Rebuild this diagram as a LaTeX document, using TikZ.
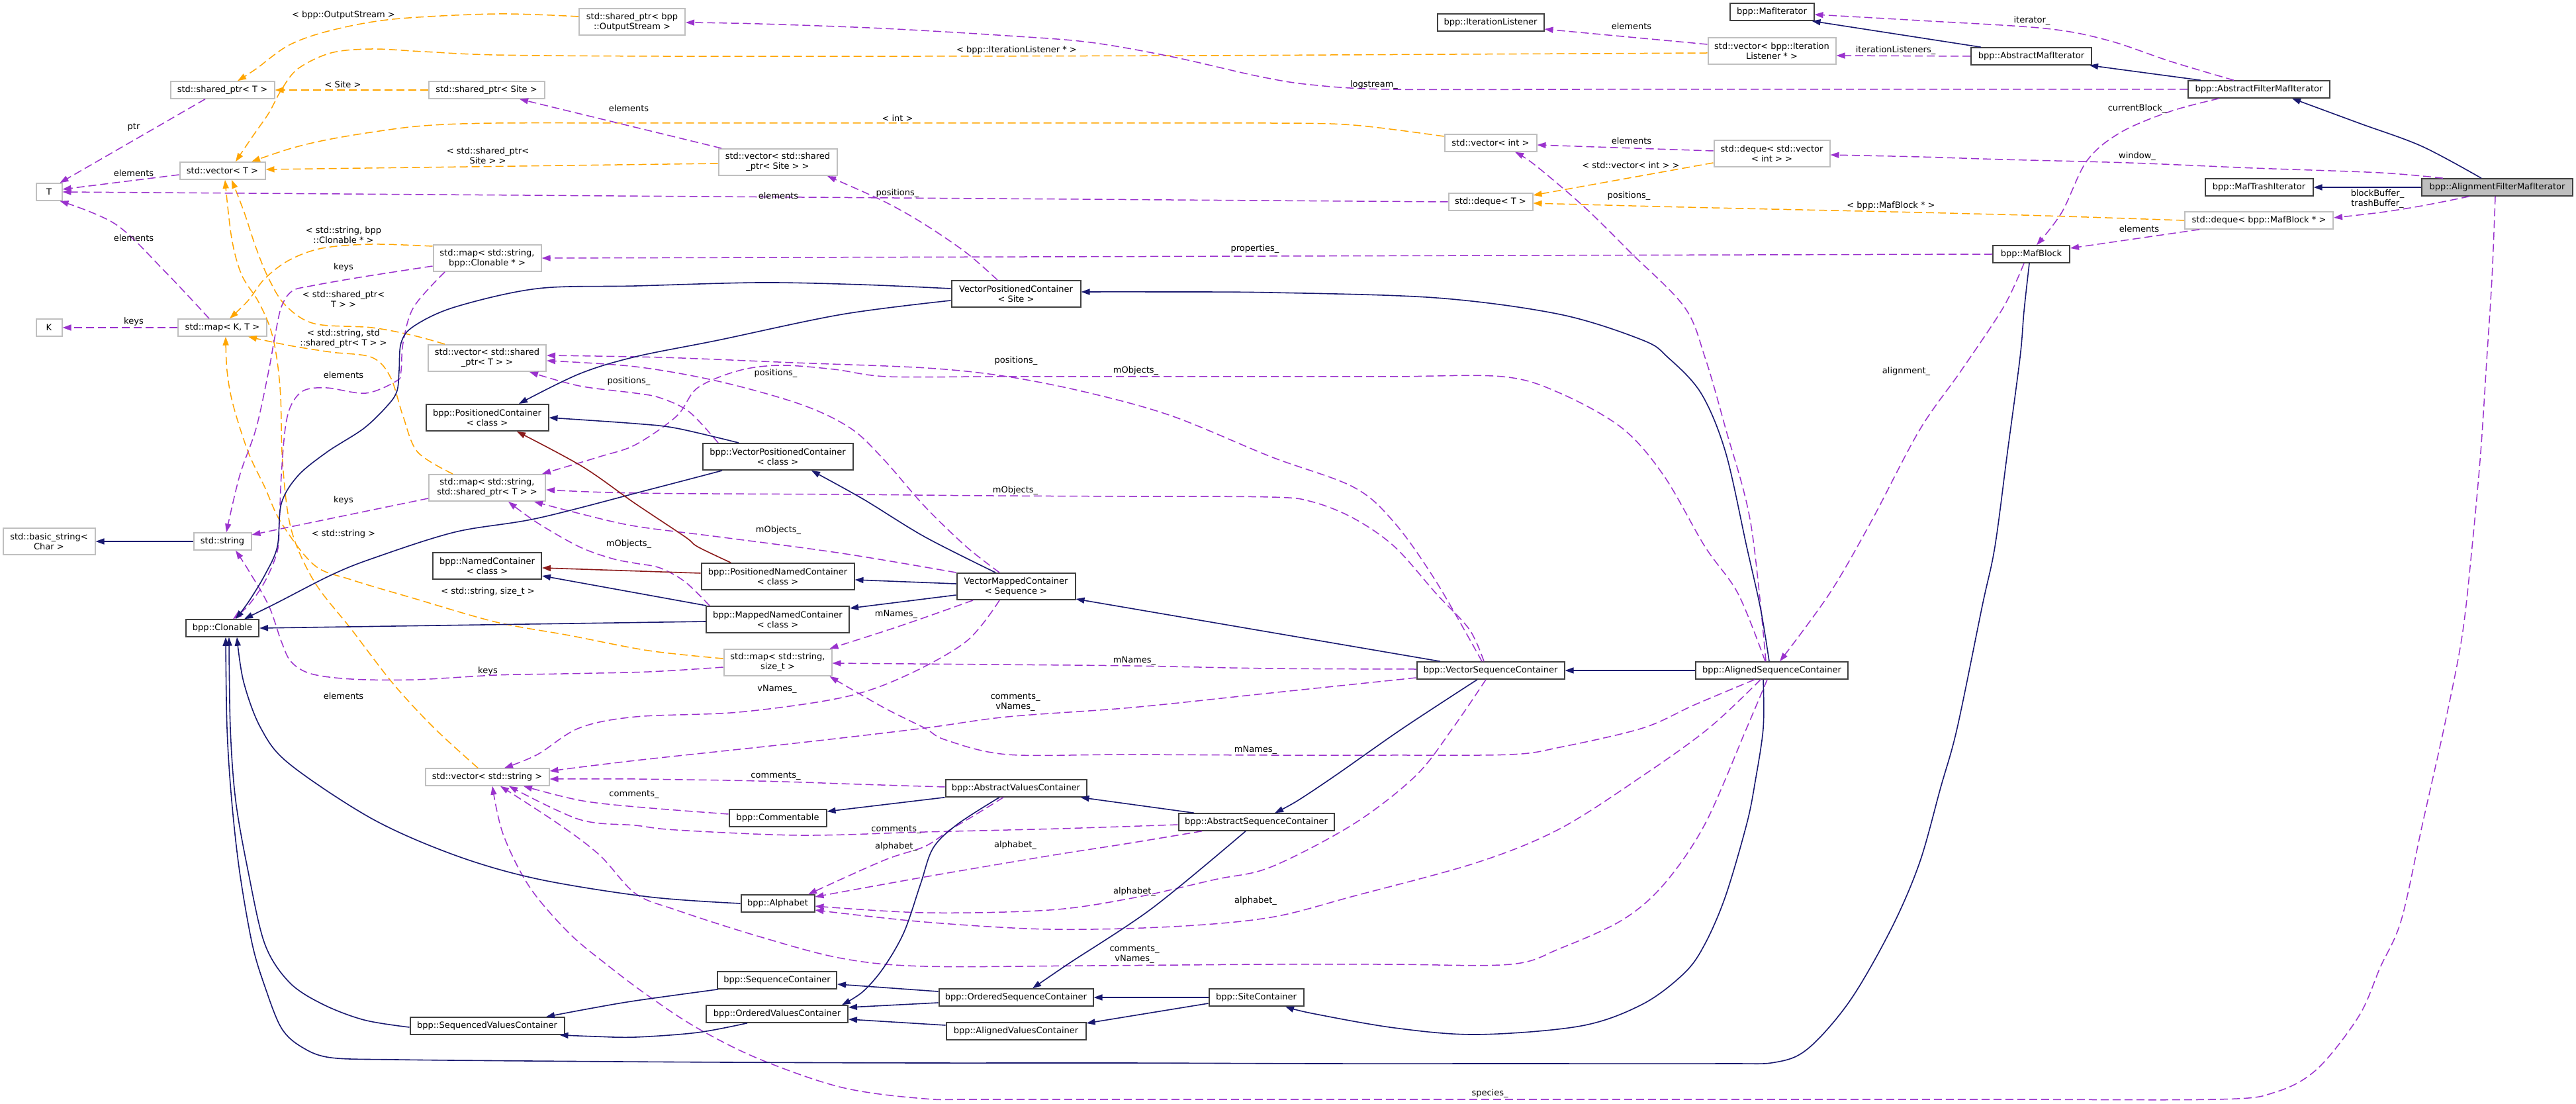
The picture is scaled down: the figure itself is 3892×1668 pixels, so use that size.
\documentclass[tikz,border=0pt]{standalone}
\usepackage{fontspec}
\setmainfont{DejaVu Sans}
\usetikzlibrary{arrows.meta}
\definecolor{inhc}{HTML}{191970}
\definecolor{privc}{HTML}{8B1A1A}
\definecolor{usec}{HTML}{9A32CD}
\definecolor{tmplc}{HTML}{FFA500}
\definecolor{docb}{HTML}{404040}
\definecolor{extb}{HTML}{BFBFBF}
\definecolor{focf}{HTML}{BFBFBF}
\tikzset{
  nbox/.style={draw, line width=1pt, fill=white, inner sep=0pt, align=center,
    font=\fontsize{6.5}{7.5}\selectfont, minimum height=12.75pt},
  cdoc/.style={nbox, draw=docb},
  cext/.style={nbox, draw=extb},
  cfoc/.style={nbox, draw=docb, fill=focf},
  two/.style={minimum height=20pt},
  wd/.style={minimum width=#1*0.5pt},
  tip/.style={-{Triangle[length=6.5pt,width=4.5pt]}},
  einh/.style={draw=inhc, line width=0.8pt, tip},
  epriv/.style={draw=privc, line width=0.8pt, tip},
  euse/.style={draw=usec, line width=0.75pt, dash pattern=on 6pt off 3pt, tip},
  etmpl/.style={draw=tmplc, line width=0.75pt, dash pattern=on 6pt off 3pt, tip},
  lbl/.style={inner sep=0pt, align=center, font=\fontsize{6.5}{7.5}\selectfont},
  sm/.style={smooth, tension=0.55}
}
\begin{document}
\begin{tikzpicture}[x=0.5pt,y=-0.5pt]
\useasboundingbox (0,0) rectangle (3892,1668);
% ---------------- nodes ----------------
\node[cext,two,wd=160] (oso) at (955,33) {std::shared\_ptr< bpp\\::OutputStream >};
\node[cdoc,wd=161] (il) at (2252,34) {bpp::IterationListener};
\node[cdoc,wd=127] (mi) at (2677,18) {bpp::MafIterator};
\node[cext,two,wd=193] (vil) at (2677,77) {std::vector< bpp::Iteration\\Listener * >};
\node[cdoc,wd=182] (ami) at (3069,85) {bpp::AbstractMafIterator};
\node[cdoc,wd=214] (afmi) at (3413,135) {bpp::AbstractFilterMafIterator};
\node[cext,wd=157] (spt) at (336,136) {std::shared\_ptr< T >};
\node[cext,wd=175] (sps) at (735,136) {std::shared\_ptr< Site >};
\node[cext,wd=129] (vT) at (336,258) {std::vector< T >};
\node[cext,two,wd=179] (vsps) at (1175,245) {std::vector< std::shared\\\_ptr< Site > >};
\node[cext,wd=139] (vint) at (2252,216) {std::vector< int >};
\node[cext,two,wd=175] (dvi) at (2677,232) {std::deque< std::vector\\< int > >};
\node[cext,wd=39] (T) at (74,290) {T};
\node[cext,wd=127] (dT) at (2252,305) {std::deque< T >};
\node[cdoc,wd=163] (mti) at (3413,283) {bpp::MafTrashIterator};
\node[cfoc,wd=228] (afi) at (3773,283) {bpp::AlignmentFilterMafIterator};
\node[cext,wd=224] (dmb) at (3413,333) {std::deque< bpp::MafBlock * >};
\node[cext,two,wd=163] (msc) at (736,390) {std::map< std::string,\\bpp::Clonable * >};
\node[cdoc,wd=116] (mb) at (3069,384) {bpp::MafBlock};
\node[cext,wd=39] (K) at (74,495) {K};
\node[cext,wd=134] (mKT) at (336,495) {std::map< K, T >};
\node[cdoc,two,wd=195] (vpcs) at (1535,444) {VectorPositionedContainer\\< Site >};
\node[cext,two,wd=178] (vspT) at (736,541) {std::vector< std::shared\\\_ptr< T > >};
\node[cdoc,two,wd=185] (pc) at (736,631) {bpp::PositionedContainer\\< class >};
\node[cdoc,two,wd=227] (vpc) at (1175,690) {bpp::VectorPositionedContainer\\< class >};
\node[cext,two,wd=176] (msp) at (736,737) {std::map< std::string,\\std::shared\_ptr< T > >};
\node[cext,two,wd=139] (bs) at (74,818) {std::basic\_string<\\Char >};
\node[cext,wd=87] (str) at (336,818) {std::string};
\node[cdoc,two,wd=164] (nc) at (736,855) {bpp::NamedContainer\\< class >};
\node[cdoc,two,wd=231] (pnc) at (1175,871) {bpp::PositionedNamedContainer\\< class >};
\node[cdoc,two,wd=179] (vmc) at (1535,886) {VectorMappedContainer\\< Sequence >};
\node[cdoc,two,wd=216] (mnc) at (1175,936) {bpp::MappedNamedContainer\\< class >};
\node[cdoc,wd=110] (cl) at (336,949) {bpp::Clonable};
\node[cext,two,wd=163] (msz) at (1175,1001) {std::map< std::string,\\size\_t >};
\node[cdoc,wd=223] (vsc) at (2252,1013) {bpp::VectorSequenceContainer};
\node[cdoc,wd=230] (asc) at (2677,1013) {bpp::AlignedSequenceContainer};
\node[cext,wd=187] (vstr) at (736,1174) {std::vector< std::string >};
\node[cdoc,wd=213] (avc) at (1535,1191) {bpp::AbstractValuesContainer};
\node[cdoc,wd=147] (com) at (1175,1236) {bpp::Commentable};
\node[cdoc,wd=235] (aseq) at (1898,1242) {bpp::AbstractSequenceContainer};
\node[cdoc,wd=111] (alph) at (1175,1365) {bpp::Alphabet};
\node[cdoc,wd=180] (sc) at (1174,1481) {bpp::SequenceContainer};
\node[cdoc,wd=233] (osc) at (1535,1507) {bpp::OrderedSequenceContainer};
\node[cdoc,wd=143] (sitec) at (1898,1507) {bpp::SiteContainer};
\node[cdoc,wd=214] (ovc) at (1174,1532) {bpp::OrderedValuesContainer};
\node[cdoc,wd=233] (svc) at (736,1550) {bpp::SequencedValuesContainer};
\node[cdoc,wd=211] (alvc) at (1535,1558) {bpp::AlignedValuesContainer};
% ---------------- template edges ----------------
\draw[etmpl] plot[sm] coordinates {([yshift=4pt]oso.west) (750,21) (594,29) (500,46) (437,68) (387,104) ([xshift=11.5pt]spt.north)};
\draw[etmpl] plot[sm] coordinates {([yshift=-1.5pt]vil.west) (2200,82) (1800,84) (1400,85) (1000,85) (750,83) (640,78) (562,74) (500,80) (450,104) (425,136) (406,171) (381,207) ([xshift=10pt]vT.north)};
\draw[etmpl] (sps.west) -- (spt.east);
\draw[etmpl] plot[sm] coordinates {([yshift=5pt]vint.west) (2045,189) (1920,186) (1600,186) (1300,186) (1000,186) (750,186) (640,190) (560,200) (490,212) (437,225) ([xshift=22pt]vT.north)};
\draw[etmpl] ([yshift=-1pt]vsps.west) -- ([yshift=1pt]vT.east);
\draw[etmpl] plot[sm] coordinates {([yshift=-1.5pt]msc.north west) (562,369) (487,375) (437,393) (400,421) (375,454) ([xshift=5.5pt]mKT.north)};
\draw[etmpl] plot[sm] coordinates {([xshift=-32pt]vspT.north) (625,507) (562,495) (475,489) (431,461) (406,421) (387,375) (369,321) ([xshift=7pt]vT.south)};
\draw[etmpl] plot[sm] coordinates {([xshift=-26pt]msp.north) (631,683) (609,629) (590,570) (562,540) (500,532) (437,522) ([xshift=19.5pt]mKT.south)};
\draw[etmpl] plot[sm] coordinates {([xshift=-7pt]vstr.north) (656,1100) (594,1033) (531,951) (475,879) (440,800) (427,700) (424,600) (418,540) (408,495) (390,455) (365,415) (350,360) ([xshift=2pt]vT.south)};
\draw[etmpl] plot[sm] coordinates {([yshift=3pt]msz.west) (980,983) (860,960) (750,940) (625,904) (531,876) (475,854) (425,790) (400,736) (375,683) (352,611) (343,560) ([xshift=2.5pt]mKT.south)};
\draw[etmpl] ([yshift=-7pt]dvi.west) -- ([yshift=5pt]dT.east);
\draw[etmpl] plot[sm] coordinates {(dmb.west) (3090,326) (2900,321) (2545,313) ([yshift=-1pt]dT.east)};
% ---------------- usage edges ----------------
\draw[euse] ([xshift=-13pt]spt.south) -- ([xshift=-2pt]T.north east);
\draw[euse] ([yshift=-3pt]vT.west) -- ([yshift=2pt]T.east);
\draw[euse] (dT.west) -- (T.east);
\draw[euse] plot[sm] coordinates {([xshift=-10pt]mKT.north) (250,411) (175,339) ([xshift=-2pt]T.south east)};
\draw[euse] (mKT.west) -- (K.east);
\draw[euse] ([xshift=-42.5pt]vsps.north) -- ([xshift=25pt]sps.south);
\draw[euse] ([yshift=5pt]vil.west) -- ([yshift=-5pt]il.east);
\draw[euse] ([yshift=2pt]dvi.west) -- ([yshift=-1.5pt]vint.east);
\draw[euse] ([xshift=-45pt]dmb.south) -- ([yshift=4.5pt]mb.east);
\draw[euse] (ami.west) -- ([yshift=-3.5pt]vil.east);
\draw[euse] plot[sm] coordinates {([xshift=-19pt]afmi.north) (3280,93) (3185,61) (3090,43) (2900,31) ([yshift=-2pt]mi.east)};
\draw[euse] plot[sm] coordinates {(afmi.west) (3000,135) (2700,135) (2400,135) (2100,135) (1980,128) (1900,115) (1772,86) (1647,64) (1522,54) (1335,43) (1147,36) ([yshift=-0.5pt]oso.east)};
\draw[euse] plot[sm] coordinates {([xshift=-30pt]afmi.south) (3280,168) (3204,200) (3153,243) (3115,321) ([xshift=4pt]mb.north)};
\draw[euse] plot[sm] coordinates {([xshift=-41pt]afi.north) (3596,261) (3406,254) (3216,246) (3027,241) (2900,237) ([yshift=-1pt]dvi.east)};
\draw[euse] plot[sm] coordinates {([xshift=-21pt]afi.south) (3659,311) (3596,321) ([yshift=2pt]dmb.east)};
\draw[euse] plot[sm] coordinates {([xshift=-1.5pt]afi.south) (3765,420) (3757,545) (3748,683) (3735,826) (3720,960) (3694,1093) (3660,1245) (3628,1390) (3596,1462) (3564,1535) (3501,1615) (3438,1650) (3350,1661) (3000,1661) (2500,1661) (2000,1661) (1500,1661) (1397,1660) (1272,1643) (1147,1600) (1053,1553) (980,1505) (920,1460) (860,1410) (800,1340) (760,1260) ([xshift=4pt]vstr.south)};
\draw[euse] (mb.west) -- (msc.east);
\draw[euse] plot[sm] coordinates {([xshift=-5.5pt]mb.south) (3027,464) (2963,560) (2900,650) (2826,790) (2764,897) ([xshift=6pt]asc.north)};
\draw[euse] plot[sm] coordinates {([xshift=-14pt]vpcs.north) (1460,382) (1397,339) (1335,304) ([xshift=37.5pt]vsps.south)};
\draw[euse] plot[sm] coordinates {([xshift=-4.5pt]asc.north) (2645,790) (2607,647) (2576,540) (2545,464) (2464,382) (2395,314) (2320,250) ([xshift=18.5pt]vint.south)};
\draw[euse] plot[sm] coordinates {([xshift=-5pt]asc.north) (2626,897) (2576,826) (2514,719) (2451,647) (2357,594) (2270,569) (2100,569) (1900,569) (1700,569) (1500,569) (1340,569) (1260,558) (1179,552) (1116,560) (1054,586) (1022,629) (960,672) (906,690) ([xshift=-3pt]msp.north east)};
\draw[euse] plot[sm] coordinates {([xshift=-12.5pt]vmc.north) (1460,826) (1397,765) (1335,694) (1285,647) (1210,611) (1085,576) (960,554) ([yshift=-2pt]vspT.east)};
\draw[euse] plot[sm] coordinates {([xshift=-6.5pt]vsc.north) (2170,879) (2107,790) (2045,736) (1920,690) (1772,629) (1647,594) (1522,569) (1400,556) (1200,548) (1000,540) ([yshift=2pt]vspT.east)};
\draw[euse] plot[sm] coordinates {([xshift=-45pt]vpc.north) (1041,622) (997,601) (960,594) (875,583) ([xshift=32pt]vspT.south)};
\draw[euse] plot[sm] coordinates {([xshift=-5pt]vsc.north) (2220,951) (2170,897) (2107,826) (2045,783) (1982,758) (1920,751) (1700,750) (1500,749) (1272,747) (960,745) ([yshift=-1.5pt]msp.east)};
\draw[euse] plot[sm] coordinates {(vmc.north west) (1272,836) (1085,811) (960,795) (880,777) ([xshift=-9pt]msp.south east)};
\draw[euse] plot[sm] coordinates {([xshift=-51.5pt]mnc.north) (1035,879) (997,858) (960,851) (925,844) (875,826) (812,790) ([xshift=16pt]msp.south)};
\draw[euse] plot[sm] coordinates {([yshift=-6pt]msc.west) (550,418) (470,432) (441,440) (425,464) (415,510) (406,560) (387,647) (362,719) ([xshift=3pt]str.north)};
\draw[euse] ([yshift=-8pt]msp.west) -- ([yshift=5pt]str.east);
\draw[euse] plot[sm] coordinates {([yshift=-3.5pt]msz.west) (980,1015) (850,1018) (750,1020) (625,1027) (531,1026) (470,1018) (440,1000) (425,969) (406,915) (375,861) ([xshift=10pt]str.south)};
\draw[euse] plot[sm] coordinates {([yshift=1pt]avc.west) (1300,1185) (1147,1180) (960,1177) ([yshift=-1.5pt]vstr.east)};
\draw[euse] plot[sm] coordinates {([yshift=3pt]com.west) (960,1219) (875,1209) ([xshift=27.5pt]vstr.south)};
\draw[euse] plot[sm] coordinates {([yshift=-2pt]aseq.west) (1600,1252) (1397,1257) (1210,1262) (1022,1254) (960,1247) (875,1238) ([xshift=16.5pt]vstr.south)};
\draw[euse] plot[sm] coordinates {([xshift=-12.5pt]vmc.south) (1460,969) (1366,1022) (1272,1054) (1116,1076) (960,1083) (875,1100) (812,1140) ([xshift=13pt]vstr.north)};
\draw[euse] plot[sm] coordinates {([yshift=-5.5pt]vsc.west) (1920,1047) (1710,1069) (1522,1083) (1397,1100) (1210,1122) (960,1149) ([yshift=4.5pt]vstr.east)};
\draw[euse] plot[sm] coordinates {([xshift=-13pt]asc.south) (2560,1065) (2482,1100) (2357,1129) (2282,1140) (2100,1141) (1920,1141) (1700,1140) (1522,1140) (1429,1118) (1397,1100) (1335,1069) ([xshift=-2pt]msz.south east)};
\draw[euse] plot[sm] coordinates {([xshift=-8.5pt]asc.south) (2582,1100) (2482,1172) (2357,1252) (2232,1303) (2045,1354) (1920,1386) (1772,1400) (1585,1404) (1397,1393) ([yshift=-5pt]alph.east)};
\draw[euse] plot[sm] coordinates {([xshift=-3.5pt]asc.south) (2639,1100) (2576,1245) (2514,1336) (2451,1390) (2357,1433) (2282,1457) (2100,1457) (1920,1457) (1647,1459) (1397,1460) (1272,1448) (1147,1415) (1022,1375) (960,1350) (906,1292) (844,1245) ([xshift=10pt]vstr.south)};
\draw[euse] plot[sm] coordinates {([xshift=-3.5pt]vsc.south) (2195,1100) (2139,1172) (2045,1245) (1920,1310) (1835,1329) (1710,1357) (1585,1375) (1397,1379) ([yshift=-2pt]alph.east)};
\draw[euse] plot[sm] coordinates {([xshift=-9.5pt]avc.south) (1472,1232) (1435,1254) (1397,1279) (1335,1300) ([xshift=23pt]alph.north)};
\draw[euse] plot[sm] coordinates {([xshift=-41pt]aseq.south) (1700,1275) (1585,1293) (1397,1325) ([yshift=5pt]alph.east)};
\draw[euse] plot[sm] coordinates {([xshift=-32.5pt]vmc.south) (1397,933) (1335,954) ([xshift=-2pt]msz.north east)};
\draw[euse] plot[sm] coordinates {([yshift=1pt]vsc.west) (1920,1010) (1710,1006) (1500,1004) ([yshift=-0.5pt]msz.east)};
\draw[euse] plot[sm] coordinates {([xshift=-32pt]msc.south) (625,464) (609,518) (606,560) (600,575) (553,594) (494,586) (459,590) (440,612) (431,647) (425,719) (422,790) (419,833) (400,879) (375,915) ([xshift=8pt]cl.north)};
% ---------------- inheritance edges ----------------
\draw[einh] plot[sm] coordinates {([xshift=-12pt]afi.north) (3659,221) (3564,186) ([xshift=25pt]afmi.south)};
\draw[einh] (afi.west) -- (mti.east);
\draw[einh] ([xshift=-44pt]afmi.north) -- ([xshift=-2pt]ami.south east);
\draw[einh] ([xshift=-38pt]ami.north) -- ([xshift=-2pt]mi.south east);
\draw[einh] plot[sm] coordinates {([xshift=-1.5pt]mb.south) (3058,470) (3052,540) (3033,683) (3014,826) (2995,915) (2957,1100) (2932,1190) (2900,1304) (2857,1404) (2795,1512) (2732,1584) (2682,1605) (2600,1607) (2300,1607) (2000,1607) (1700,1606) (1400,1606) (1100,1605) (800,1603) (600,1601) (500,1598) (456,1582) (425,1553) (400,1490) (381,1426) (362,1317) (350,1209) (343,1100) ([xshift=2.5pt]cl.south)};
\draw[einh] plot[sm] coordinates {([yshift=-1pt]svc.west) (550,1541) (487,1517) (437,1484) (400,1426) (375,1317) (356,1209) (348,1100) ([xshift=5pt]cl.south)};
\draw[einh] plot[sm] coordinates {(alph.west) (980,1355) (812,1328) (687,1292) (562,1237) (437,1154) (394,1100) (368,1030) ([xshift=11pt]cl.south)};
\draw[einh] ([yshift=-1.5pt]mnc.west) -- (cl.east);
\draw[einh] plot[sm] coordinates {([xshift=-42pt]vpc.south) (980,740) (812,783) (687,804) (562,844) (500,869) (420,910) ([xshift=16.5pt]cl.north)};
\draw[einh] plot[sm] coordinates {([yshift=4pt]vpcs.west) (1300,430) (1147,427) (960,432) (812,436) (687,464) (625,493) (606,518) (603,560) (600,590) (587,611) (550,647) (494,683) (450,719) (425,761) (419,826) (400,869) (375,910) ([xshift=10pt]cl.north)};
\draw[einh] plot[sm] coordinates {([yshift=-5pt]vpcs.west) (1272,475) (1085,514) (960,539) (875,565) ([xshift=24pt]pc.north)};
\draw[einh] plot[sm] coordinates {([xshift=-29.5pt]vpc.north) (1022,647) (960,640) (pc.east)};
\draw[epriv] plot[sm] coordinates {([xshift=-35.5pt]pnc.north) (1054,826) (1035,811) (960,761) (880,705) ([xshift=22.5pt]pc.south)};
\draw[epriv] ([yshift=2.5pt]pnc.west) -- ([yshift=-1.5pt]nc.east);
\draw[einh] ([xshift=-54pt]mnc.north) -- ([yshift=-7.5pt]nc.east);
\draw[einh] ([yshift=2pt]vmc.west) -- ([yshift=-2.5pt]pnc.east);
\draw[einh] ([yshift=-6.5pt]vmc.west) -- ([yshift=8.5pt]mnc.east);
\draw[einh] plot[sm] coordinates {([xshift=-15.5pt]vmc.north) (1397,811) (1304,754) ([xshift=25.5pt]vpc.south)};
\draw[einh] ([xshift=-38pt]vsc.north) -- ([yshift=1pt]vmc.south east);
\draw[einh] (asc.west) -- (vsc.east);
\draw[einh] plot[sm] coordinates {([xshift=-2pt]asc.north) (2660,920) (2639,826) (2607,683) (2570,594) (2520,540) (2482,514) (2357,475) (2170,450) (1920,442) (1750,441) ([yshift=1.5pt]vpcs.east)};
\draw[einh] plot[sm] coordinates {([xshift=-10pt]vsc.south) (2120,1100) (2020,1170) (1960,1210) ([xshift=14pt]aseq.north)};
\draw[einh] ([xshift=-47pt]aseq.north) -- ([xshift=-5pt]avc.south east);
\draw[einh] (avc.south west) -- ([yshift=5pt]com.east);
\draw[einh] plot[sm] coordinates {([xshift=-12.5pt]avc.south) (1447,1245) (1410,1281) (1391,1335) (1366,1408) (1335,1462) (1304,1498) ([xshift=49pt]ovc.north)};
\draw[einh] plot[sm] coordinates {([xshift=-8pt]aseq.south) (1741,1372) (1616,1455) ([xshift=12.5pt]osc.north)};
\draw[einh] ([yshift=4.5pt]osc.west) -- ([yshift=-3pt]sc.east);
\draw[einh] ([yshift=-4pt]osc.west) -- ([yshift=5pt]ovc.east);
\draw[einh] ([yshift=4.5pt]alvc.west) -- ([yshift=-4pt]ovc.east);
\draw[einh] (sitec.west) -- (osc.east);
\draw[einh] ([yshift=-4.5pt]sitec.west) -- ([yshift=6pt]alvc.east);
\draw[einh] plot[sm] coordinates {([xshift=-6.5pt]asc.south) (2664,1100) (2652,1180) (2639,1245) (2607,1354) (2576,1426) (2545,1470) (2482,1517) (2389,1550) (2232,1563) (2107,1553) (1982,1531) ([xshift=22pt]sitec.south)};
\draw[einh] plot[sm] coordinates {([xshift=-44.5pt]sc.south) (960,1512) (890,1524) ([xshift=44.5pt]svc.north)};
\draw[einh] plot[sm] coordinates {([xshift=-22.5pt]ovc.south) (1054,1560) (960,1567) (900,1566) ([xshift=-4pt]svc.south east)};
\draw[einh] (str.west) -- (bs.east);
% ---------------- labels ----------------
\node[lbl] (l1) at (519,23) {< bpp::OutputStream >};
\node[lbl] (l2) at (1536,76) {< bpp::IterationListener * >};
\node[lbl] (l3) at (518,128) {< Site >};
\node[lbl] (l4) at (202,192) {ptr};
\node[lbl] (l5) at (1356,179) {< int >};
\node[lbl] (l6) at (737,235) {< std::shared\_ptr<\\Site > >};
\node[lbl] (l7) at (202,262) {elements};
\node[lbl] (l8) at (950,164) {elements};
\node[lbl] (l9) at (1356,292) {positions\_};
\node[lbl] (l10) at (1176,296) {elements};
\node[lbl] (l11) at (202,360) {elements};
\node[lbl] (l12) at (519,355) {< std::string, bpp\\::Clonable * >};
\node[lbl] (l13) at (519,404) {keys};
\node[lbl] (l14) at (1896,376) {properties\_};
\node[lbl] (l15) at (519,452) {< std::shared\_ptr<\\T > >};
\node[lbl] (l16) at (202,486) {keys};
\node[lbl] (l17) at (519,512) {< std::string, std\\::shared\_ptr< T > >};
\node[lbl] (l18) at (2465,40) {elements};
\node[lbl] (l19) at (2864,76) {iterationListeners\_};
\node[lbl] (l20) at (2076,128) {logstream\_};
\node[lbl] (l21) at (2465,213) {elements};
\node[lbl] (l22) at (2464,250) {< std::vector< int > >};
\node[lbl] (l23) at (2461,296) {positions\_};
\node[lbl] (l24) at (2857,311) {< bpp::MafBlock * >};
\node[lbl] (l25) at (3070,31) {iterator\_};
\node[lbl] (l26) at (3229,164) {currentBlock\_};
\node[lbl] (l27) at (3229,236) {window\_};
\node[lbl] (l28) at (3592,301) {blockBuffer\_\\trashBuffer\_};
\node[lbl] (l29) at (3232,346) {elements};
\node[lbl] (l30) at (2880,561) {alignment\_};
\node[lbl] (l31) at (1535,545) {positions\_};
\node[lbl] (l32) at (1716,560) {mObjects\_};
\node[lbl] (l33) at (1172,564) {positions\_};
\node[lbl] (l34) at (950,576) {positions\_};
\node[lbl] (l35) at (519,567) {elements};
\node[lbl] (l36) at (519,756) {keys};
\node[lbl] (l37) at (519,807) {< std::string >};
\node[lbl] (l38) at (1534,741) {mObjects\_};
\node[lbl] (l39) at (1176,801) {mObjects\_};
\node[lbl] (l40) at (950,822) {mObjects\_};
\node[lbl] (l41) at (737,894) {< std::string, size\_t >};
\node[lbl] (l42) at (1354,928) {mNames\_};
\node[lbl] (l43) at (1714,998) {mNames\_};
\node[lbl] (l44) at (737,1014) {keys};
\node[lbl] (l45) at (1174,1041) {vNames\_};
\node[lbl] (l46) at (519,1052) {elements};
\node[lbl] (l47) at (1534,1061) {comments\_\\vNames\_};
\node[lbl] (l48) at (1897,1133) {mNames\_};
\node[lbl] (l49) at (1172,1172) {comments\_};
\node[lbl] (l50) at (958,1200) {comments\_};
\node[lbl] (l51) at (1354,1253) {comments\_};
\node[lbl] (l52) at (1354,1279) {alphabet\_};
\node[lbl] (l53) at (1534,1277) {alphabet\_};
\node[lbl] (l54) at (1714,1347) {alphabet\_};
\node[lbl] (l55) at (1897,1361) {alphabet\_};
\node[lbl] (l56) at (1714,1442) {comments\_\\vNames\_};
\node[lbl] (l57) at (2251,1652) {species\_};
\end{tikzpicture}
\end{document}
